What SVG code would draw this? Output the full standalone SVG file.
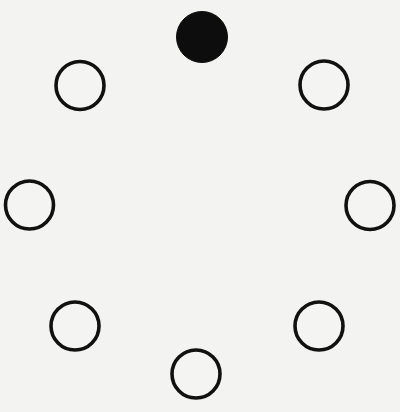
<svg xmlns="http://www.w3.org/2000/svg" width="400" height="412" viewBox="0 0 400 412">
<style>
.ring{fill:#f4f4f2;stroke:#111;stroke-width:3.6}
.dot{fill:#0d0d0d;stroke:#0d0d0d;stroke-width:1}
</style>
<rect width="400" height="412" fill="#f3f3f1"/>
<g id="n-top"><circle class="dot" cx="202" cy="37" r="25.5"/></g>
<g id="n-topright"><circle class="ring" cx="324" cy="85" r="24"/></g>
<g id="n-right"><circle class="ring" cx="370" cy="205.5" r="24"/></g>
<g id="n-bottomright"><circle class="ring" cx="319" cy="326" r="24"/></g>
<g id="n-bottom"><circle class="ring" cx="196" cy="374" r="24"/></g>
<g id="n-bottomleft"><circle class="ring" cx="75" cy="326" r="24"/></g>
<g id="n-left"><circle class="ring" cx="29.5" cy="205" r="24"/></g>
<g id="n-topleft"><circle class="ring" cx="80" cy="85.5" r="24"/></g>
<g id="connectors"></g>
</svg>
